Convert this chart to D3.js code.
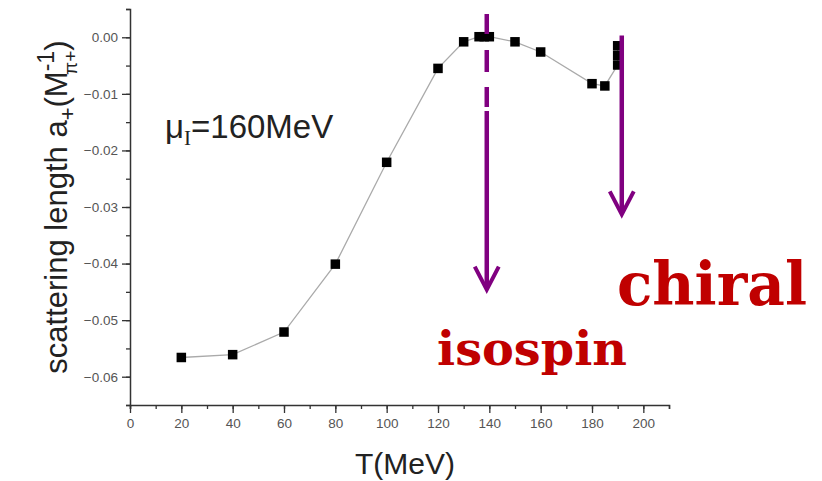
<!DOCTYPE html>
<html>
<head>
<meta charset="utf-8">
<script src="https://cdn.jsdelivr.net/npm/d3@7"></script>
<style>
  body { margin: 0; background: #fff; }
  svg { display: block; }
  .tick text { font-family: "Liberation Sans", Arial, sans-serif; }
</style>
</head>
<body>
<svg id="chart" width="822" height="481"></svg>
<script>
// T (MeV) and scattering length a+
const temps = [20, 40, 60, 80, 100, 120, 130, 136, 138, 140, 150, 160, 180, 185, 190, 190, 190];
const lengths = [-0.0566, -0.0561, -0.0521, -0.0401, -0.0221, -0.0055, -0.0008, 0.0001, 0.0001, 0.0001,
                 -0.0008, -0.0026, -0.0082, -0.0086, -0.0049, -0.0032, -0.0015];

const xTicks = [0, 20, 40, 60, 80, 100, 120, 140, 160, 180, 200];
const yTicks = [0, -0.01, -0.02, -0.03, -0.04, -0.05, -0.06];

// purple arrows: T position, top and tip in a+ units
const arrowNames = ["isospin", "chiral"];
const arrowT = [139, 191.6];
const arrowTop = [0.0041, 0.0003];
const arrowTip = [-0.0446, -0.0313];

const svg = d3.select("#chart");

const x = d3.scaleLinear().domain([0, 210]).range([130, 669]);
const y = d3.scaleLinear().domain([-0.065, 0.005]).range([405, 9]);

// axes, major + minor ticks
function drawAxes() {
    const axisColor = "#333";

    const xAxis = svg.append("g").attr("transform", "translate(0,405)");
    xAxis.call(d3.axisBottom(x).tickValues(d3.range(0, 211, 10)).tickSize(4).tickFormat(""));
    xAxis.append("g").call(d3.axisBottom(x).tickValues(xTicks).tickSize(8).tickPadding(5).tickFormat(d3.format("d")));

    const yAxis = svg.append("g").attr("transform", "translate(130,0)");
    yAxis.call(d3.axisLeft(y).tickValues(d3.range(-0.065, 0.0051, 0.005)).tickSize(4).tickFormat(""));
    yAxis.append("g").call(d3.axisLeft(y).tickValues(yTicks).tickSize(8).tickPadding(4).tickFormat(d3.format(".2f")));

    svg.selectAll(".domain").attr("stroke", axisColor).attr("stroke-width", 1.5);
    svg.selectAll(".tick line").attr("stroke", axisColor).attr("stroke-width", 1.3);
    svg.selectAll(".tick text").attr("fill", "#555").attr("font-size", 13.5);
    svg.selectAll("g g .domain").remove();
}

function drawData() {
    const pts = temps.map((t, i) => [t, lengths[i]]);
    const line = d3.line().x(d => x(d[0])).y(d => y(d[1]));

    svg.append("path")
        .datum(pts)
        .attr("fill", "none")
        .attr("stroke", "#aaa")
        .attr("stroke-width", 1.3)
        .attr("d", line);

    const s = 9.5;
    svg.selectAll("rect.pt")
        .data(pts)
        .enter().append("rect")
        .attr("class", "pt")
        .attr("x", d => x(d[0]) - s / 2)
        .attr("y", d => y(d[1]) - s / 2)
        .attr("width", s)
        .attr("height", s)
        .attr("fill", "#000");
}

function drawArrows() {
    const purple = "#800080";
    arrowNames.forEach((name, i) => {
        const ax = x(arrowT[i]), y0 = y(arrowTop[i]), y1 = y(arrowTip[i]);
        svg.append("line")
            .attr("x1", ax).attr("x2", ax)
            .attr("y1", y0).attr("y2", y1 - 2)
            .attr("stroke", purple)
            .attr("stroke-width", 4.5)
            .attr("stroke-dasharray", name == "isospin" ? "20,16,22,15,20,4,400" : null);
        svg.append("path")
            .attr("d", `M${ax - 12},${y1 - 23}L${ax},${y1}L${ax + 12},${y1 - 23}`)
            .attr("fill", "none")
            .attr("stroke", purple)
            .attr("stroke-width", 4)
            .attr("stroke-linejoin", "miter");
    });
}

function drawLabels() {
    const sans = "'Liberation Sans', Arial, sans-serif";

    svg.append("text")
        .attr("x", 405).attr("y", 474)
        .attr("text-anchor", "middle")
        .attr("font-family", sans).attr("font-size", 30).attr("fill", "#222")
        .text("T(MeV)");

    // y label with sub/superscripts
    const yl = svg.append("text")
        .attr("transform", "translate(67,207) rotate(-90)")
        .attr("text-anchor", "middle")
        .attr("font-family", sans).attr("font-size", 31).attr("fill", "#222");
    yl.append("tspan").text("scattering length a");
    yl.append("tspan").attr("font-size", 22).attr("dy", 8).text("+");
    yl.append("tspan").attr("dy", -8).text("(M");
    yl.append("tspan").attr("font-size", 23).attr("dy", -13).text("-1");
    yl.append("tspan").attr("font-size", 19).attr("dx", -24).attr("dy", 23).text("\u03c0+");
    yl.append("tspan").attr("dy", -10).text(")");

    const mu = svg.append("text")
        .attr("x", 165).attr("y", 138)
        .attr("font-family", sans).attr("font-size", 33).attr("fill", "#222");
    mu.append("tspan").text("\u03bc");
    mu.append("tspan").attr("font-family", "'Liberation Serif', serif").attr("font-size", 21).attr("dy", 7).text("I");
    mu.append("tspan").attr("dy", -7).text("=160MeV");

    const red = "#c00000";
    svg.append("text")
        .attr("x", 617).attr("y", 305)
        .attr("font-family", "'DejaVu Serif', serif").attr("font-weight", "bold")
        .attr("font-size", 60).attr("fill", red)
        .attr("textLength", 190).attr("lengthAdjust", "spacingAndGlyphs")
        .text("chiral");
    svg.append("text")
        .attr("x", 437).attr("y", 365)
        .attr("font-family", "'DejaVu Serif', serif").attr("font-weight", "bold")
        .attr("font-size", 47).attr("fill", red)
        .attr("textLength", 190).attr("lengthAdjust", "spacingAndGlyphs")
        .text("isospin");
}

drawAxes();
drawData();
drawArrows();
drawLabels();
</script>
</body>
</html>
